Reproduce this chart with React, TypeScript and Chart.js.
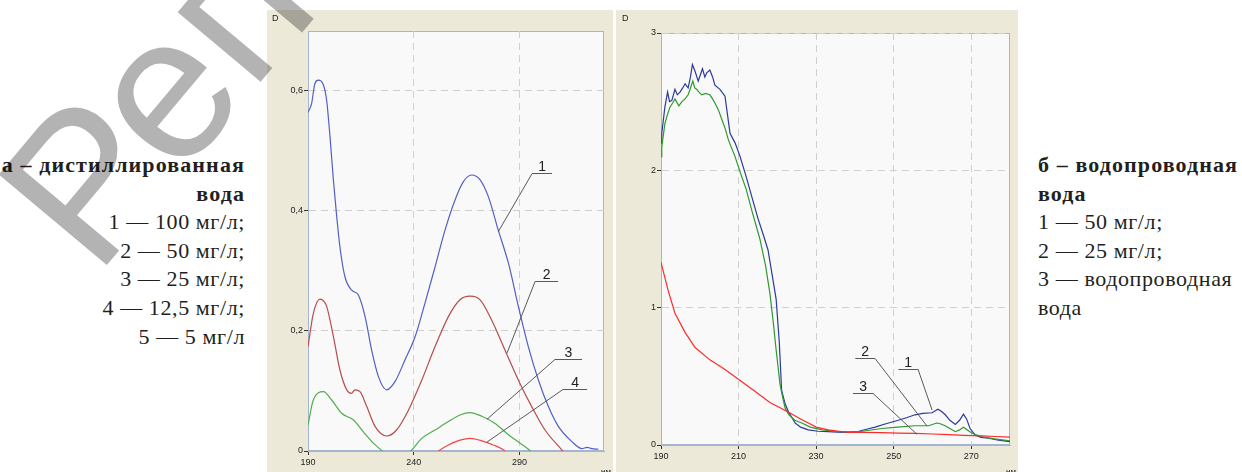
import React, { useEffect, useRef } from 'react';
import { Chart, registerables } from 'chart.js';

Chart.register(...registerables);

// ---------- Panel а (distilled water): wavelength, nm / optical density ----------
const aXTicks = [190, 240, 290];
const aYTicks = [0, 0.2, 0.4, 0.6];

const aWl1 = [190, 191.7, 193.3, 194.9, 197.3, 198.8, 200.4, 202, 203.6, 205.1, 207.5, 210.7, 213.8, 217, 220.1, 223.3, 227.2, 231.2, 235.9, 240.6, 245.3, 250.1, 254.8, 259.5, 263.5, 267.4, 271.4, 275.3, 280, 284.8, 289.5, 294.2, 299, 303.7, 308.4, 314.7, 319.5, 322, 324.2, 327.3];
const aAbs1 = [0.564, 0.579, 0.613, 0.618, 0.61, 0.585, 0.524, 0.452, 0.39, 0.34, 0.29, 0.268, 0.26, 0.224, 0.168, 0.124, 0.102, 0.116, 0.152, 0.19, 0.246, 0.307, 0.368, 0.418, 0.449, 0.46, 0.452, 0.424, 0.368, 0.313, 0.241, 0.174, 0.118, 0.074, 0.041, 0.016, 0.004, 0.006, 0.004, 0.003];

const aWl2 = [190, 192.5, 195.7, 198.8, 202, 205.1, 208.3, 210.5, 212.2, 214.6, 217.8, 221.7, 227.2, 231.9, 237.5, 243.8, 250.1, 256.4, 261.9, 266.6, 271.4, 276.9, 283.2, 289.5, 295.8, 302.1, 310, 313];
const aAbs2 = [0.174, 0.229, 0.253, 0.241, 0.191, 0.135, 0.102, 0.096, 0.102, 0.099, 0.074, 0.041, 0.025, 0.035, 0.068, 0.118, 0.174, 0.224, 0.252, 0.258, 0.252, 0.218, 0.168, 0.118, 0.074, 0.035, 0.002, -0.01];

const aWl3 = [190, 192.5, 197.3, 201.2, 205.9, 211.4, 216.2, 220.9, 224.8, 228, 235, 238.7, 243.8, 250.1, 256.4, 261.9, 266.6, 272.2, 278.5, 284.8, 290.3, 294.5, 298];
const aAbs3 = [0.043, 0.085, 0.099, 0.085, 0.063, 0.052, 0.032, 0.013, 0.001, -0.01, -0.01, 0, 0.021, 0.035, 0.049, 0.06, 0.064, 0.058, 0.046, 0.027, 0.013, 0.002, -0.01];

const aWl4 = [248, 251.7, 256.4, 261.9, 266.6, 272.2, 277.7, 282.4, 286];
const aAbs4 = [-0.01, 0, 0.01, 0.018, 0.021, 0.017, 0.01, 0.002, -0.01];

// curve labels: anchor on curve (ax, ay), elbow (bx, by), shelf end cx
const aNotes = [
  { label: '1', ax: 279.9, ay: 0.365, bx: 296, by: 0.463, cx: 305.4 },
  { label: '2', ax: 284.1, ay: 0.163, bx: 297.4, by: 0.283, cx: 308.3 },
  { label: '3', ax: 274.7, ay: 0.053, bx: 306.8, by: 0.153, cx: 319.6 },
  { label: '4', ax: 274.7, ay: 0.015, bx: 310.6, by: 0.103, cx: 322 },
];

// ---------- Panel б (tap water) ----------
const bXTicks = [190, 210, 230, 250, 270];
const bYTicks = [0, 1, 2, 3];

const bWl1 = [190, 190.2, 191, 191.7, 192.2, 192.8, 193.6, 194.2, 194.9, 195.6, 196.2, 197, 197.6, 198.1, 198.8, 199.6, 200.2, 200.7, 201.3, 201.8, 202.6, 203.3, 203.9, 205.2, 206.5, 207.8, 209.1, 210.4, 212, 213.5, 215, 216.5, 217.6, 218.6, 219.7, 220.5, 221.1, 222, 222.9, 224.6, 226, 228, 230.5, 233.1, 235.5, 238.3, 241, 243, 245.2, 248, 251.2, 253.5, 255.5, 257.5, 259.9, 261.4, 262.3, 263.3, 264.5, 265.9, 267, 268, 268.8, 269.7, 271, 272.5, 274.5, 277, 280];
const bAbs1 = [2.2, 2.27, 2.46, 2.57, 2.5, 2.51, 2.59, 2.55, 2.57, 2.6, 2.63, 2.6, 2.68, 2.77, 2.72, 2.65, 2.7, 2.74, 2.68, 2.71, 2.73, 2.68, 2.62, 2.59, 2.54, 2.27, 2.2, 2.1, 1.95, 1.8, 1.65, 1.52, 1.42, 1.25, 1.06, 0.75, 0.4, 0.3, 0.24, 0.16, 0.13, 0.11, 0.1, 0.097, 0.094, 0.092, 0.1, 0.115, 0.13, 0.155, 0.18, 0.2, 0.22, 0.23, 0.235, 0.26, 0.245, 0.22, 0.18, 0.15, 0.18, 0.225, 0.19, 0.12, 0.073, 0.055, 0.049, 0.035, 0.024];

const bWl2 = [190, 190.2, 191, 191.6, 192.3, 193, 193.6, 194.6, 195.4, 196.2, 197, 197.5, 198.2, 198.7, 199.2, 199.8, 200.5, 201.5, 202.6, 203.3, 203.9, 204.8, 205.7, 206.6, 207.4, 209.1, 210.5, 212, 213.5, 215.5, 217, 218.1, 219, 219.7, 220.7, 221.5, 222, 223, 224.5, 226.3, 228.5, 231.5, 235, 238.3, 242, 246.9, 251, 255.5, 259, 261.1, 262, 263.3, 264.5, 265.9, 267, 268, 269, 270.2, 272.8, 276, 280];
const bAbs2 = [2.1, 2.17, 2.34, 2.4, 2.46, 2.49, 2.52, 2.47, 2.5, 2.52, 2.55, 2.59, 2.65, 2.6, 2.59, 2.57, 2.55, 2.56, 2.55, 2.52, 2.49, 2.44, 2.37, 2.3, 2.22, 2.1, 1.98, 1.86, 1.7, 1.5, 1.3, 1.1, 0.88, 0.69, 0.44, 0.33, 0.27, 0.22, 0.18, 0.16, 0.13, 0.11, 0.1, 0.095, 0.1, 0.12, 0.13, 0.14, 0.14, 0.16, 0.155, 0.14, 0.12, 0.097, 0.11, 0.13, 0.11, 0.085, 0.06, 0.045, 0.03];

const bWl3 = [190, 191.8, 193.6, 196.2, 198.8, 202.6, 206.5, 210.4, 214.3, 218.1, 222.8, 226, 228, 230, 233.1, 236, 238.3, 242, 246.9, 251, 255.5, 260, 264.2, 268, 272.8, 276, 280];
const bAbs3 = [1.33, 1.13, 0.96, 0.82, 0.71, 0.62, 0.55, 0.47, 0.39, 0.31, 0.24, 0.19, 0.16, 0.13, 0.11, 0.1, 0.092, 0.092, 0.09, 0.087, 0.085, 0.08, 0.075, 0.07, 0.066, 0.062, 0.058];

const bNotes = [
  { label: '1', ax: 259.9, ay: 0.255, bx: 256.3, by: 0.551, cx: 251.2 },
  { label: '2', ax: 258.6, ay: 0.138, bx: 245.2, by: 0.631, cx: 240.1 },
  { label: '3', ax: 256, ay: 0.078, bx: 244.7, by: 0.381, cx: 239.5 },
];

const leftCaption = ['а – дистиллированная', 'вода'];
const leftItems = ['1 — 100 мг/л;', '2 — 50 мг/л;', '3 — 25 мг/л;', '4 — 12,5 мг/л;', '5 — 5 мг/л'];
const rightCaption = ['б – водопроводная', 'вода'];
const rightItems = ['1 — 50 мг/л;', '2 — 25 мг/л;', '3 — водопроводная', 'вода'];

const BEIGE = '#ECE9D8';
const SANS = '"Liberation Sans", Arial, sans-serif';
const SERIF = '"Liberation Serif", "Times New Roman", serif';

const pts = (xs: number[], ys: number[]) => xs.map((x, i) => ({ x, y: ys[i] }));

const framePlugin = {
  id: 'frame',
  beforeDraw(chart: any) {
    const { ctx, chartArea: a } = chart;
    ctx.save();
    ctx.fillStyle = '#f9f9f9';
    ctx.fillRect(a.left, a.top, a.right - a.left, a.bottom - a.top);
    ctx.strokeStyle = '#a3b5d2';
    ctx.lineWidth = 1;
    ctx.strokeRect(a.left + 0.5, a.top + 0.5, a.right - a.left - 1, a.bottom - a.top - 1);
    ctx.restore();
  },
};

const notesPlugin = (notes: any[]) => ({
  id: 'notes',
  afterDatasetsDraw(chart: any) {
    const { ctx } = chart;
    const x = chart.scales.x;
    const y = chart.scales.y;
    ctx.save();
    ctx.strokeStyle = '#5a5a5a';
    ctx.lineWidth = 1;
    ctx.fillStyle = '#222';
    ctx.font = '14px ' + SANS;
    ctx.textAlign = 'center';
    ctx.textBaseline = 'alphabetic';
    notes.forEach((n) => {
      const ax = x.getPixelForValue(n.ax);
      const ay = y.getPixelForValue(n.ay);
      const bx = x.getPixelForValue(n.bx);
      const by = Math.round(y.getPixelForValue(n.by)) + 0.5;
      const cx = x.getPixelForValue(n.cx);
      ctx.beginPath();
      ctx.moveTo(ax, ay);
      ctx.lineTo(bx, by);
      ctx.lineTo(cx, by);
      ctx.stroke();
      ctx.fillText(n.label, (bx + cx) / 2, by - 3);
    });
    ctx.restore();
  },
});

function axes(xMin: number, xMax: number, xTicks: number[], yMax: number, yTicks: number[], yW: number, xH: number) {
  const grid = { color: '#cfcfcf', lineWidth: 1, drawTicks: true, tickLength: 4, tickColor: '#333', tickWidth: 1, tickBorderDash: [] };
  const border = { display: true, color: '#a3b5d2', width: 1, dash: [7, 5] };
  const ticks = { color: '#222', font: { family: SANS, size: 9 }, padding: 1, autoSkip: false, maxRotation: 0 };
  return {
    x: {
      type: 'linear', min: xMin, max: xMax, grid, border, ticks: { ...ticks, padding: 2 },
      afterBuildTicks: (s: any) => { s.ticks = xTicks.map((v) => ({ value: v })); },
      afterFit: (s: any) => { s.height = xH; },
    },
    y: {
      type: 'linear', min: 0, max: yMax, grid, border,
      ticks: { ...ticks, callback: (v: any) => String(v).replace('.', ',') },
      afterBuildTicks: (s: any) => { s.ticks = yTicks.map((v) => ({ value: v })); },
      afterFit: (s: any) => { s.width = yW; },
    },
  };
}

function ChartCanvas({ config, width, height }: { config: () => any; width: number; height: number }) {
  const ref = useRef<HTMLCanvasElement | null>(null);
  useEffect(() => {
    if (!ref.current) return;
    const chart = new Chart(ref.current, config());
    return () => chart.destroy();
  }, []);
  return <canvas ref={ref} width={width} height={height} style={{ display: 'block', position: 'absolute', left: 0, top: 0 }} />;
}

const line = (data: any[], color: string, smooth: boolean) => ({
  data,
  borderColor: color,
  borderWidth: 1.2,
  pointRadius: 0,
  fill: false,
  tension: smooth ? 0.4 : 0,
  cubicInterpolationMode: smooth ? 'monotone' : 'default',
});

const baseOptions = (scales: any, padding: any) => ({
  responsive: false,
  animation: false,
  events: [],
  layout: { padding },
  plugins: { legend: { display: false }, tooltip: { enabled: false } },
  scales,
});

const configA = () => ({
  type: 'line',
  data: {
    datasets: [
      line(pts(aWl1, aAbs1), '#5060c4', true),
      line(pts(aWl2, aAbs2), '#b64c4c', true),
      line(pts(aWl3, aAbs3), '#4fae4f', true),
      line(pts(aWl4, aAbs4), '#f04848', true),
    ],
  },
  options: baseOptions(axes(190, 330, aXTicks, 0.7, aYTicks, 41, 21), { top: 21, right: 9, left: 0, bottom: 0 }),
  plugins: [framePlugin, notesPlugin(aNotes)],
});

const configB = () => ({
  type: 'line',
  data: {
    datasets: [
      line(pts(bWl3, bAbs3), '#ff2a2a', false),
      line(pts(bWl2, bAbs2), '#2e9a2e', false),
      line(pts(bWl1, bAbs1), '#2b3a9c', false),
    ],
  },
  options: baseOptions(axes(190, 280, bXTicks, 3, bYTicks, 45, 27), { top: 23, right: 8, left: 0, bottom: 0 }),
  plugins: [framePlugin, notesPlugin(bNotes)],
});

const small = { position: 'absolute' as const, fontFamily: SANS, fontSize: 9, lineHeight: '10px', color: '#222' };

function Caption({ head, items, align, left, width }: { head: string[]; items: string[]; align: 'left' | 'right'; left: number; width: number }) {
  return (
    <div style={{ position: 'absolute', left, top: 151, width, textAlign: align, fontFamily: SERIF, fontSize: 22, lineHeight: '28.6px', color: '#231f20', whiteSpace: 'nowrap' }}>
      {head.map((t, i) => <div key={'h' + i} style={{ fontWeight: 700, letterSpacing: '1.1px' }}>{t}</div>)}
      {items.map((t, i) => <div key={'i' + i} style={{ letterSpacing: '0.6px' }}>{t}</div>)}
    </div>
  );
}

export default function App() {
  return (
    <div style={{ position: 'absolute', left: 0, top: 0, width: 1242, height: 472, background: '#fff', overflow: 'hidden' }}>
      <div style={{ position: 'absolute', left: 267, top: 10, width: 346, height: 462, background: BEIGE, overflow: 'hidden' }}>
        <ChartCanvas config={configA} width={346} height={462} />
        <span style={{ ...small, left: 5, top: 3 }}>D</span>
        <span style={{ ...small, left: 334, top: 457, fontSize: 8 }}>нм</span>
      </div>
      <div style={{ position: 'absolute', left: 616, top: 10, width: 402, height: 462, background: BEIGE, overflow: 'hidden' }}>
        <ChartCanvas config={configB} width={402} height={462} />
        <span style={{ ...small, left: 6, top: 3 }}>D</span>
        <span style={{ ...small, left: 390, top: 457, fontSize: 8 }}>нм</span>
      </div>
      <Caption head={leftCaption} items={leftItems} align="right" left={0} width={245} />
      <Caption head={rightCaption} items={rightItems} align="left" left={1038} width={204} />
      <svg width={1242} height={472} style={{ position: 'absolute', left: 0, top: 0, pointerEvents: 'none', mixBlendMode: 'multiply' }}>
        <text transform="translate(96,278) rotate(-50)" fontFamily={SANS} fontSize={205} fill="#b3b3b3">Репозиторий</text>
      </svg>
    </div>
  );
}
